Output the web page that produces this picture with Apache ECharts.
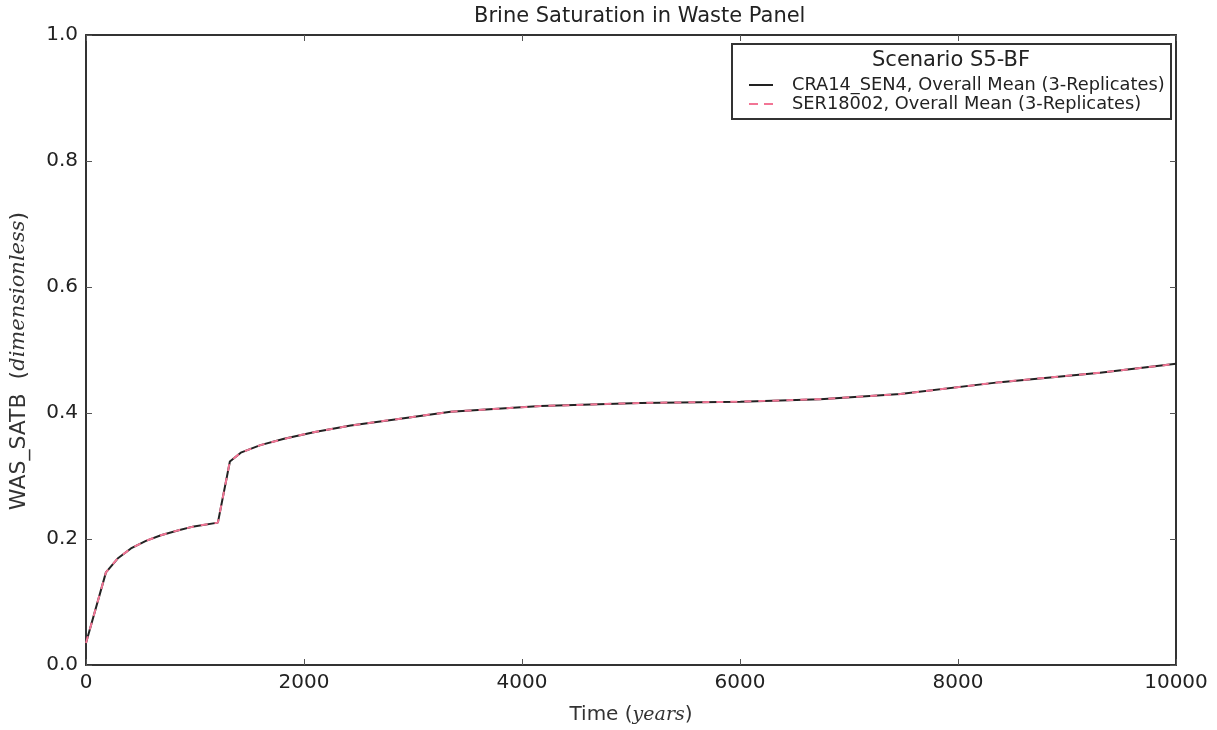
<!DOCTYPE html>
<html>
<head>
<meta charset="utf-8">
<script src="https://cdn.jsdelivr.net/npm/echarts@6/dist/echarts.min.js"></script>
<style>
  html, body { margin: 0; padding: 0; background: #fff; }
  #chart { width: 1217px; height: 730px; }
</style>
</head>
<body>
<div id="chart"></div>
<script>
// values
const timeYears = [0, 183, 290, 412, 550, 687, 850, 990, 1210, 1320, 1420, 1600, 1817, 2100, 2429, 2800, 3345, 4170, 5087, 6004, 6737, 7470, 8387, 9303, 10000];
const cra14Mean = [0.035, 0.147, 0.169, 0.185, 0.197, 0.206, 0.214, 0.220, 0.226, 0.323, 0.337, 0.349, 0.359, 0.370, 0.380, 0.389, 0.402, 0.411, 0.416, 0.418, 0.422, 0.430, 0.449, 0.464, 0.478];
const ser18002Mean = [0.035, 0.147, 0.169, 0.185, 0.197, 0.206, 0.214, 0.220, 0.226, 0.323, 0.337, 0.349, 0.359, 0.370, 0.380, 0.389, 0.402, 0.411, 0.416, 0.418, 0.422, 0.430, 0.449, 0.464, 0.478];
const seriesNames = ["CRA14_SEN4, Overall Mean (3-Replicates)", "SER18002, Overall Mean (3-Replicates)"];

const font = "DejaVu Sans";
const frame = { show: true, onZero: false, lineStyle: { color: "#333", width: 2 } };
const tick = { show: true, inside: true, length: 6, lineStyle: { color: "#555", width: 1 } };

const pairs = (ys) => timeYears.map((t, i) => [t, ys[i]]);

const chart = echarts.init(document.getElementById("chart"));
chart.setOption({
  animation: false,
  backgroundColor: "#fff",
  title: {
    text: "Brine Saturation in Waste Panel",
    left: 469,
    top: 1,
    textStyle: { fontFamily: font, fontSize: 21, fontWeight: "normal", color: "#222" }
  },
  grid: { left: 85, right: 41, top: 35, bottom: 63 },
  legend: {
    orient: "vertical",
    left: 744,
    top: 71,
    z: 10,
    itemWidth: 24,
    itemHeight: 2,
    itemGap: 1,
    data: [
      { name: seriesNames[0], icon: "rect" },
      { name: seriesNames[1], icon: "path://M0,0H9V2H0Z M15,0H24V2H15Z" }
    ],
    textStyle: { fontFamily: font, fontSize: 17.8, color: "#222", padding: [0, 0, 0, 14] }
  },
  graphic: [
    {
      type: "rect",
      shape: { x: 732, y: 44, width: 439, height: 75 },
      style: { fill: "#fff", stroke: "#333", lineWidth: 2 },
      z: 5
    },
    {
      type: "text",
      x: 951,
      y: 61,
      style: {
        text: "Scenario S5-BF",
        fontFamily: font,
        fontSize: 21,
        fill: "#222",
        textAlign: "center",
        textVerticalAlign: "middle"
      },
      z: 6
    }
  ],
  xAxis: [
    {
      type: "value",
      min: 0,
      max: 10000,
      interval: 2000,
      name: "Time ({i|years})",
      nameLocation: "middle",
      nameGap: 40,
      nameTextStyle: {
        fontFamily: font,
        fontSize: 20,
        color: "#333",
        rich: { i: { fontFamily: "DejaVu Serif", fontStyle: "italic", fontSize: 19, color: "#333" } }
      },
      axisLine: frame,
      axisTick: tick,
      splitLine: { show: false },
      axisLabel: { fontFamily: font, fontSize: 20, color: "#222", margin: 8, formatter: (v) => String(v) }
    },
    {
      type: "value",
      position: "top",
      min: 0,
      max: 10000,
      interval: 2000,
      axisLine: frame,
      axisTick: tick,
      splitLine: { show: false },
      axisLabel: { show: false }
    }
  ],
  yAxis: [
    {
      type: "value",
      min: 0,
      max: 1,
      interval: 0.2,
      name: "WAS_SATB  ({i|dimensionless})",
      nameLocation: "middle",
      nameGap: 56,
      nameTextStyle: {
        fontFamily: font,
        fontSize: 22,
        color: "#333",
        padding: [0, 22, 0, 0],
        rich: { i: { fontFamily: "DejaVu Serif", fontStyle: "italic", fontSize: 21, color: "#333" } }
      },
      axisLine: frame,
      axisTick: tick,
      splitLine: { show: false },
      axisLabel: {
        fontFamily: font,
        fontSize: 20,
        color: "#222",
        margin: 8,
        formatter: (v) => v.toFixed(1)
      }
    },
    {
      type: "value",
      position: "right",
      min: 0,
      max: 1,
      interval: 0.2,
      axisLine: frame,
      axisTick: tick,
      splitLine: { show: false },
      axisLabel: { show: false }
    }
  ],
  series: [
    {
      name: seriesNames[0],
      type: "line",
      data: pairs(cra14Mean),
      symbol: "none",
      lineStyle: { color: "#222", width: 2 },
      itemStyle: { color: "#222" },
      z: 2
    },
    {
      name: seriesNames[1],
      type: "line",
      data: pairs(ser18002Mean),
      symbol: "none",
      lineStyle: { color: "#f27595", width: 2, type: [7, 7] },
      itemStyle: { color: "#f27595" },
      z: 3
    }
  ]
});
</script>
</body>
</html>
